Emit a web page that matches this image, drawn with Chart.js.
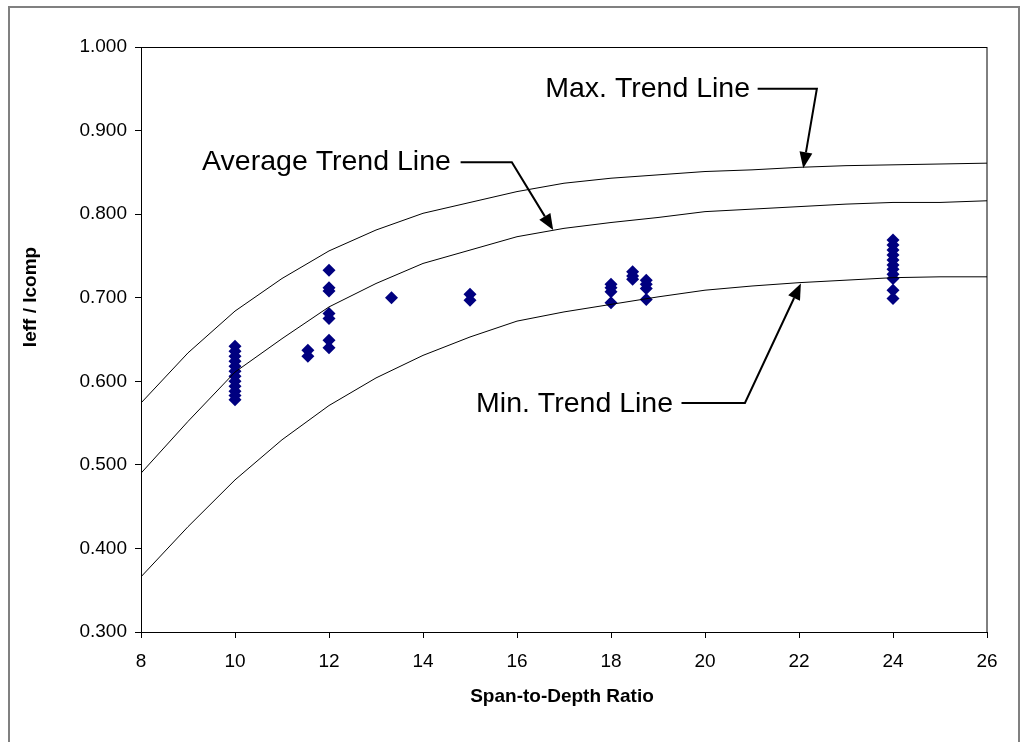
<!DOCTYPE html>
<html><head><meta charset="utf-8">
<script src="https://cdn.jsdelivr.net/npm/chart.js@4/dist/chart.umd.min.js"></script>
<style>
html,body{margin:0;padding:0;background:#fff;}
#wrap{position:relative;width:1022px;height:742px;overflow:hidden;}
#frame{position:absolute;left:8px;top:6px;width:1012px;height:800px;border:2px solid #808080;box-sizing:border-box;pointer-events:none;}
canvas{position:absolute;left:0;top:0;}
</style></head><body>
<div id="wrap"><canvas id="c" width="1022" height="742"></canvas><div id="frame"></div></div>
<script>
// ---- data ----
const xTickValues = [8,10,12,14,16,18,20,22,24,26];
const yTickValues = [0.3,0.4,0.5,0.6,0.7,0.8,0.9,1.0];
const trendSpan = [8,9,10,11,12,13,14,15,16,17,18,19,20,21,22,23,24,25,26];
const maxTrend = [0.574,0.634,0.684,0.723,0.756,0.781,0.801,0.814,0.827,0.837,0.843,0.847,0.851,0.853,0.856,0.858,0.859,0.860,0.861];
const avgTrend = [0.490,0.552,0.611,0.651,0.689,0.717,0.741,0.757,0.773,0.783,0.790,0.796,0.803,0.806,0.809,0.812,0.814,0.814,0.816];
const minTrend = [0.366,0.426,0.482,0.530,0.571,0.604,0.631,0.653,0.672,0.683,0.692,0.701,0.709,0.714,0.718,0.721,0.724,0.725,0.725];
const testSpan = [
  10,10,10,10,10,10,10,10,10,10,10,10,
  11.55,11.55,
  12,12,12,12,12,12,12,
  13.33,
  15,15,
  18,18,18,18,
  18.46,18.46,18.46,
  18.75,18.75,18.75,18.75,
  24,24,24,24,24,24,24,24,24,24,24
];
const testRatio = [
  0.642,0.636,0.630,0.624,0.618,0.612,0.606,0.600,0.594,0.588,0.583,0.578,
  0.637,0.630,
  0.733,0.712,0.708,0.681,0.675,0.649,0.640,
  0.700,
  0.704,0.697,
  0.716,0.712,0.707,0.694,
  0.731,0.726,0.722,
  0.721,0.716,0.711,0.698,
  0.769,0.763,0.757,0.751,0.745,0.739,0.734,0.728,0.723,0.709,0.699
];
const annotationLabels = ['Max. Trend Line','Average Trend Line','Min. Trend Line'];
const annotationTextAt = [[16.6,0.9405],[9.30,0.853],[15.13,0.5632]];
const annotationPaths = [
  [[21.12,0.950],[22.38,0.950],[22.09,0.855]],
  [[14.80,0.862],[15.89,0.862],[16.77,0.781]],
  [[19.50,0.574],[20.85,0.574],[22.04,0.717]]
];
const xTitle = 'Span-to-Depth Ratio';
const yTitle = 'Ieff / Icomp';

// ---- chart ----
const FONT = '"Liberation Sans", Arial, sans-serif';
const toXY = (xs, ys) => xs.map((x,i)=>({x:x, y:ys[i]}));

const decor = {
  id:'decor',
  afterDraw(chart){
    const ctx = chart.ctx, a = chart.chartArea;
    const xs = chart.scales.x, ys = chart.scales.y;
    ctx.save();
    ctx.strokeStyle = '#000'; ctx.lineWidth = 1;
    ctx.strokeRect(Math.round(a.left)+0.5, Math.round(a.top)+0.5, Math.round(a.right-a.left)-0.5, Math.round(a.bottom-a.top));
    // annotations
    ctx.fillStyle = '#000';
    ctx.font = '28.5px ' + FONT;
    ctx.textBaseline = 'alphabetic'; ctx.textAlign = 'left';
    annotationLabels.forEach((lab,i)=>{
      const t = annotationTextAt[i];
      ctx.fillText(lab, xs.getPixelForValue(t[0]), ys.getPixelForValue(t[1]));
      const pts = annotationPaths[i].map(p=>[xs.getPixelForValue(p[0]), ys.getPixelForValue(p[1])]);
      const n = pts.length;
      const tip = pts[n-1], prev = pts[n-2];
      const dx = tip[0]-prev[0], dy = tip[1]-prev[1], L = Math.hypot(dx,dy);
      const ux = dx/L, uy = dy/L, hl = 16, hw = 6.5;
      const bx = tip[0]-ux*hl, by = tip[1]-uy*hl;
      ctx.lineWidth = 2; ctx.lineJoin='miter';
      ctx.beginPath();
      ctx.moveTo(pts[0][0], pts[0][1]);
      for (let k=1;k<n-1;k++) ctx.lineTo(pts[k][0], pts[k][1]);
      ctx.lineTo(bx, by);
      ctx.stroke();
      ctx.beginPath();
      ctx.moveTo(tip[0], tip[1]);
      ctx.lineTo(bx - uy*hw, by + ux*hw);
      ctx.lineTo(bx + uy*hw, by - ux*hw);
      ctx.closePath(); ctx.fill();
    });
    // axis titles
    ctx.font = 'bold 19px ' + FONT;
    ctx.textAlign = 'center'; ctx.textBaseline = 'middle';
    ctx.fillText(xTitle, (a.left+a.right)/2 - 2, 697);
    ctx.save();
    ctx.translate(31, 297);
    ctx.rotate(-Math.PI/2);
    ctx.fillText(yTitle, 0, 0);
    ctx.restore();
    ctx.restore();
  }
};

new Chart(document.getElementById('c'), {
  type:'scatter',
  data:{
    datasets:[
      {label:'Max. Trend Line', data: toXY(trendSpan, maxTrend), showLine:true, borderColor:'#000', borderWidth:1, pointRadius:0, tension:0, fill:false},
      {label:'Average Trend Line', data: toXY(trendSpan, avgTrend), showLine:true, borderColor:'#000', borderWidth:1, pointRadius:0, tension:0, fill:false},
      {label:'Min. Trend Line', data: toXY(trendSpan, minTrend), showLine:true, borderColor:'#000', borderWidth:1, pointRadius:0, tension:0, fill:false},
      {label:'Test data', data: toXY(testSpan, testRatio), showLine:false, pointStyle:'rectRot', pointRadius:6.5, pointBorderWidth:0, backgroundColor:'#000080', borderColor:'#000080'}
    ]
  },
  options:{
    responsive:false, animation:false, devicePixelRatio:1,
    layout:{padding:{top:47, right:35, left:0, bottom:0}},
    plugins:{legend:{display:false}, tooltip:{enabled:false}},
    scales:{
      x:{type:'linear', min:8, max:26,
        afterBuildTicks: s => { s.ticks = xTickValues.map(v=>({value:v})); },
        afterFit: s => { s.height = 110; },
        ticks:{color:'#000', font:{family:FONT, size:19}, padding:12, maxRotation:0, autoSkip:false},
        grid:{drawOnChartArea:false, drawTicks:true, tickLength:6, color:'#000', lineWidth:1},
        border:{color:'#000', width:1}
      },
      y:{type:'linear', min:0.3, max:1.0,
        afterBuildTicks: s => { s.ticks = yTickValues.map(v=>({value:v})); },
        afterFit: s => { s.width = 141; },
        ticks:{color:'#000', font:{family:FONT, size:19}, padding:8, callback: v => Number(v).toFixed(3)},
        grid:{drawOnChartArea:false, drawTicks:true, tickLength:6, color:'#000', lineWidth:1},
        border:{color:'#000', width:1}
      }
    }
  },
  plugins:[decor]
});
</script>
</body></html>
